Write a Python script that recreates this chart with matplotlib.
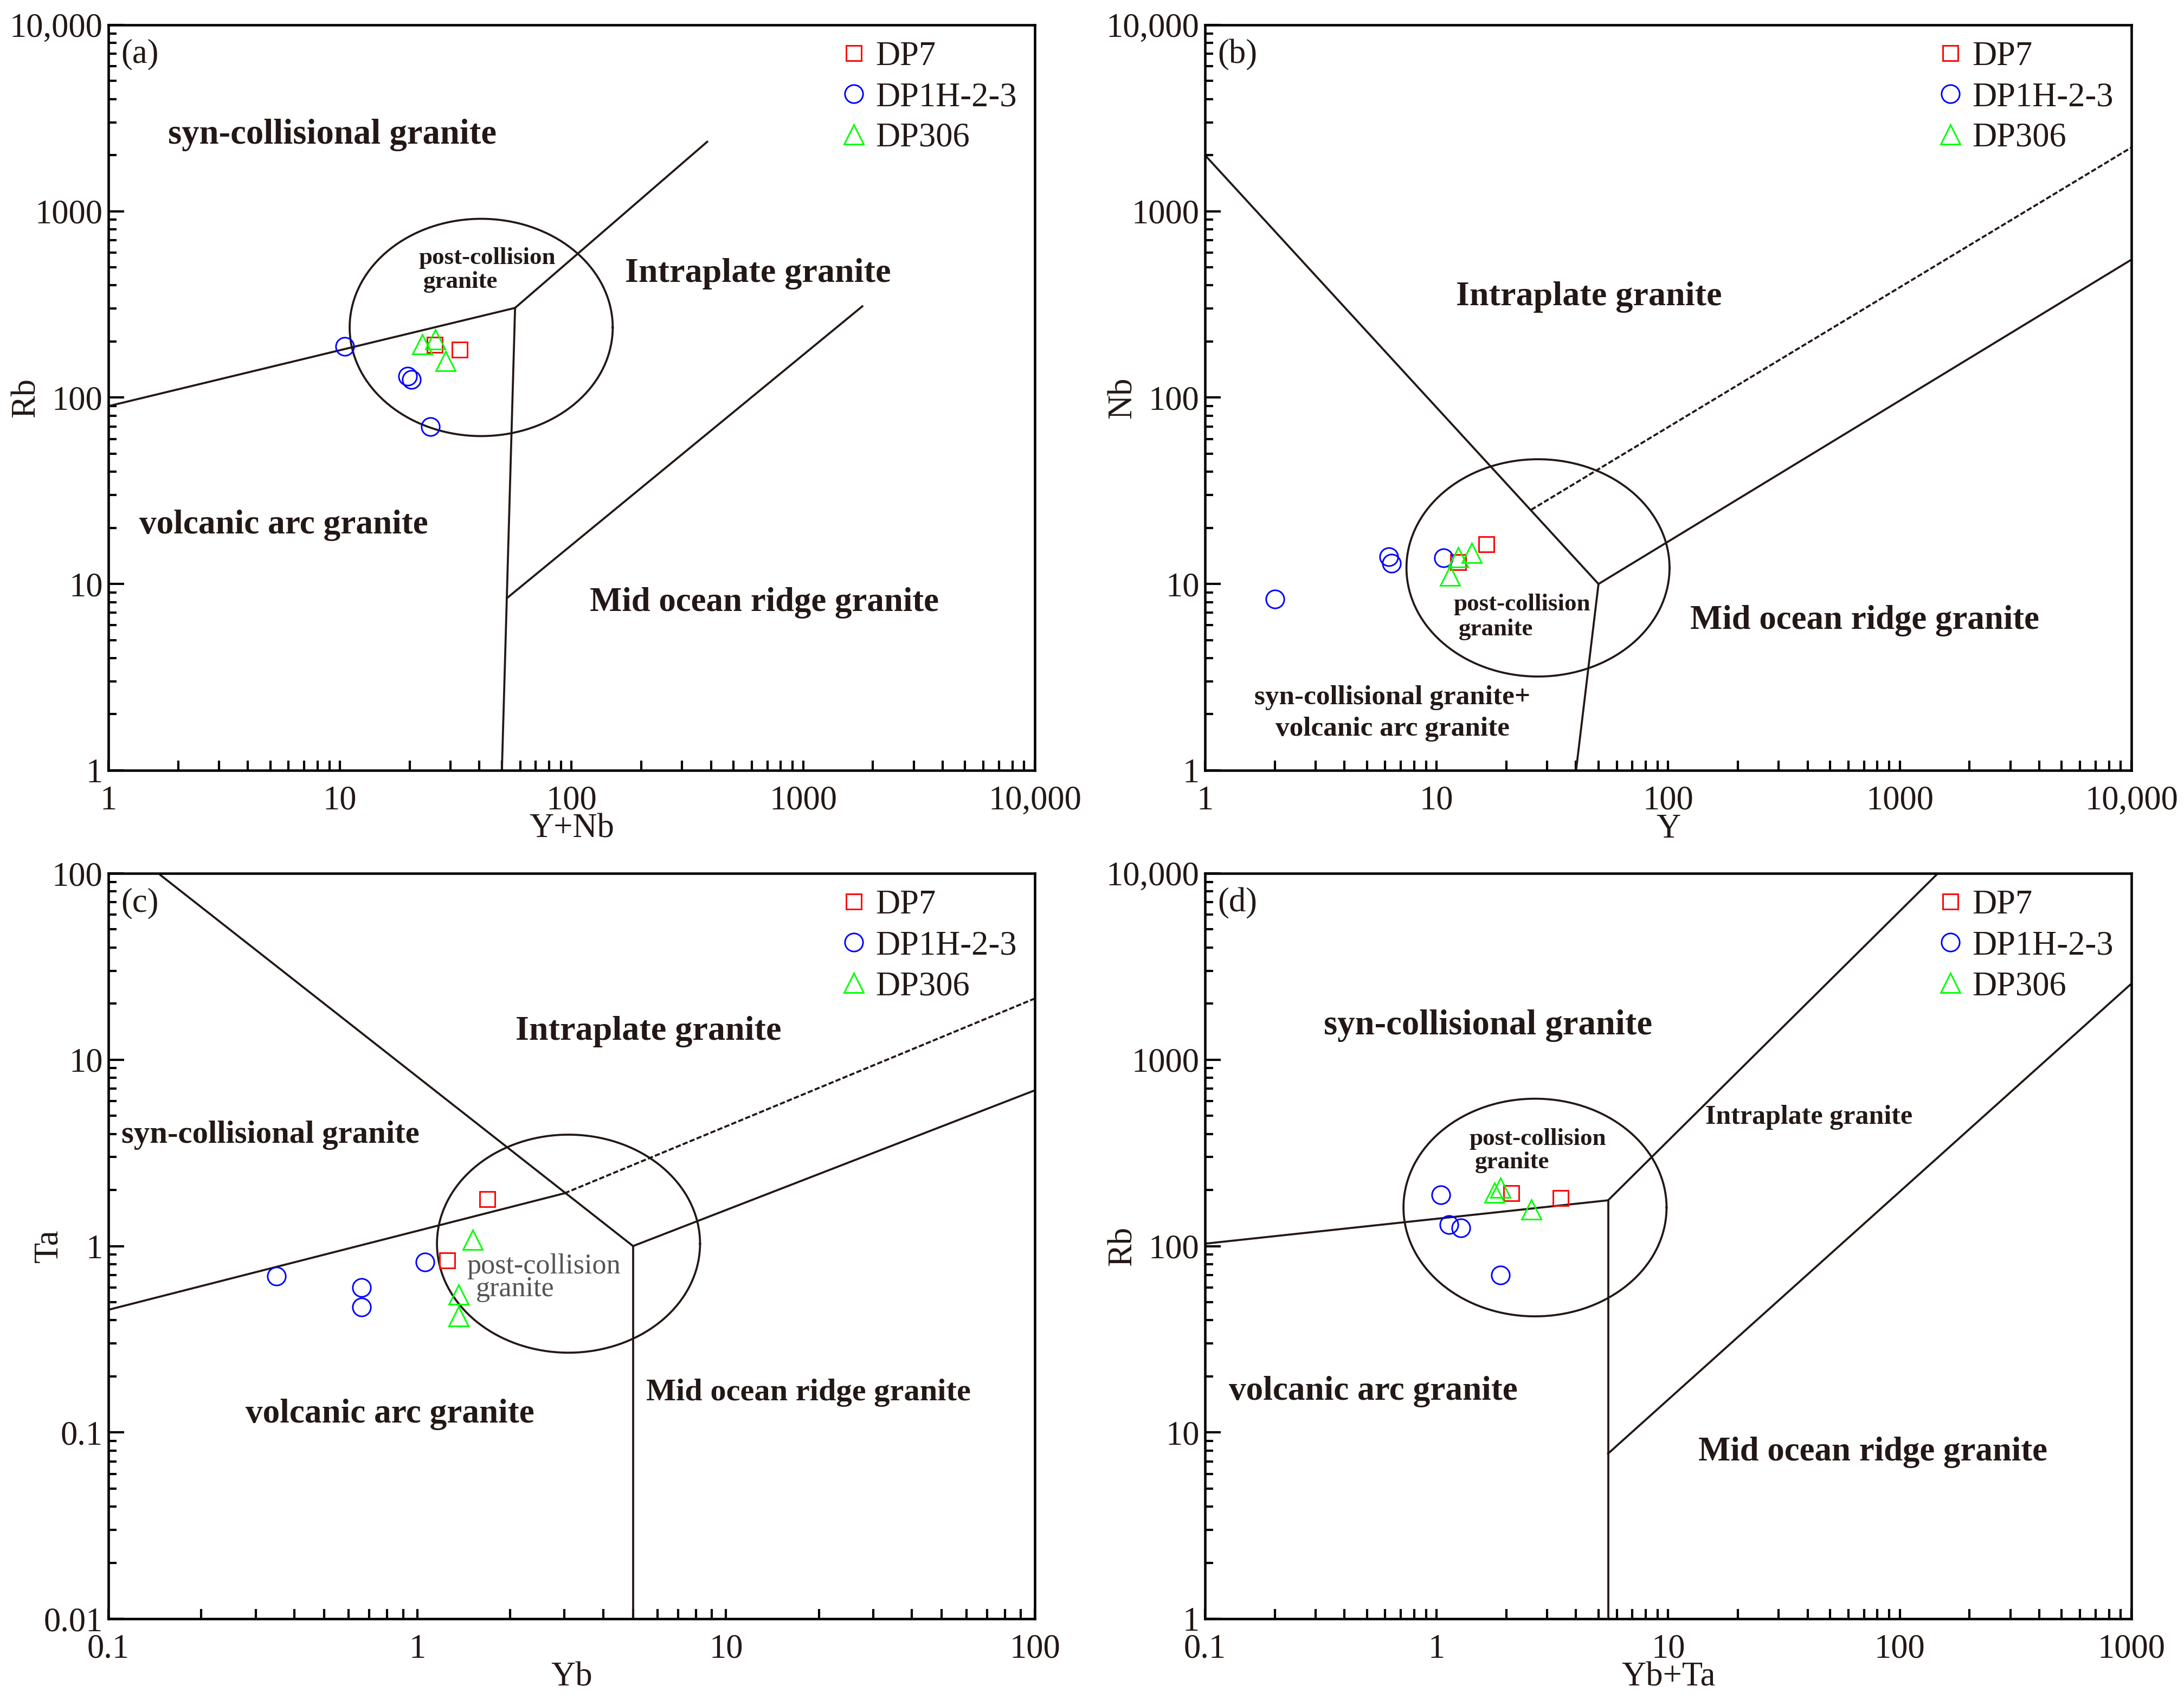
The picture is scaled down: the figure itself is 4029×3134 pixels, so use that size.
import numpy as np
import matplotlib
matplotlib.use('Agg')
import matplotlib.pyplot as plt
from matplotlib.ticker import FixedLocator, FixedFormatter, LogLocator, NullFormatter

plt.rcParams['font.family'] = ['Liberation Serif', 'DejaVu Serif']
ink = '#231815'

# ---- sample data ----
# (a) Rb vs Y+Nb
a_dp7_x = [25.6, 32.9]
a_dp7_y = [192, 181]
a_dp1_x = [10.5, 19.6, 20.3, 24.6]
a_dp1_y = [188, 130, 125, 70]
a_dp306_x = [22.7, 25.8, 28.5]
a_dp306_y = [194, 205, 157]

# (b) Nb vs Y
b_dp7_x = [16.4, 12.4]
b_dp7_y = [16.3, 13.1]
b_dp1_x = [2.0, 6.2, 6.4, 10.7]
b_dp1_y = [8.3, 14.0, 12.9, 13.8]
b_dp306_x = [12.4, 14.2, 11.4]
b_dp306_y = [13.9, 14.7, 11.1]

# (c) Ta vs Yb
c_dp7_x = [1.69, 1.25]
c_dp7_y = [1.78, 0.84]
c_dp1_x = [0.35, 0.66, 0.66, 1.06]
c_dp1_y = [0.69, 0.60, 0.47, 0.82]
c_dp306_x = [1.51, 1.36, 1.36]
c_dp306_y = [1.08, 0.55, 0.42]

# (d) Rb vs Yb+Ta
d_dp7_x = [2.10, 3.44]
d_dp7_y = [192, 181]
d_dp1_x = [1.04, 1.13, 1.27, 1.89]
d_dp1_y = [188, 130, 125, 70]
d_dp306_x = [1.78, 1.89, 2.57]
d_dp306_y = [194, 205, 157]

# ---- field boundaries (Pearce et al.) ----
a_lines = [[(1, 90), (57, 303)], [(57, 303), (385, 2360)],
           [(57, 303), (50, 1)], [(52.6, 8.4), (1800, 309)]]
a_dash = []
b_lines = [[(1, 2000), (50, 10)], [(50, 10), (40, 1)], [(50, 10), (10000, 550)]]
b_dash = [[(25.6, 25), (10000, 2200)]]
c_lines = [[(0.145, 100), (5, 1)], [(5, 1), (5, 0.01)], [(5, 1), (100, 6.85)],
           [(0.1, 0.455), (3.0, 1.92)]]
c_dash = [[(3.0, 1.92), (100, 21.3)]]
d_lines = [[(0.1, 103), (5.5, 176)], [(5.5, 176), (5.5, 1)],
           [(5.5, 176), (146, 10000)], [(5.5, 7.7), (1000, 2560)]]
d_dash = []

# post-collision field: centre (data units), radii (decades)
a_ell = (40.7, 238, 0.568, 0.583)
b_ell = (27.4, 12.2, 0.568, 0.583)
c_ell = (3.09, 1.03, 0.426, 0.585)
d_ell = (2.66, 161, 0.568, 0.584)

big = ['1', '10', '100', '1000', '10,000']
a_xt = [1, 10, 100, 1000, 10000]
a_yt = [1, 10, 100, 1000, 10000]
c_xt = [0.1, 1, 10, 100]
c_xl = ['0.1', '1', '10', '100']
c_yt = [0.01, 0.1, 1, 10, 100]
c_yl = ['0.01', '0.1', '1', '10', '100']
d_xt = [0.1, 1, 10, 100, 1000]
d_xl = ['0.1', '1', '10', '100', '1000']

# labels: text, x frac, y frac, size, weight, ha, color
a_txt = [('syn-collisional granite', 0.2416, 0.852, 15.5, 'bold', 'center', ink),
         ('post-collision', 0.335, 0.687, 10.8, 'bold', 'left', ink),
         ('granite', 0.340, 0.655, 10.8, 'bold', 'left', ink),
         ('Intraplate granite', 0.701, 0.666, 15.4, 'bold', 'center', ink),
         ('volcanic arc granite', 0.189, 0.329, 15.2, 'bold', 'center', ink),
         ('Mid ocean ridge granite', 0.708, 0.225, 15.1, 'bold', 'center', ink)]
b_txt = [('Intraplate granite', 0.4145, 0.635, 15.4, 'bold', 'center', ink),
         ('post-collision', 0.268, 0.2227, 10.8, 'bold', 'left', ink),
         ('granite', 0.274, 0.1894, 10.8, 'bold', 'left', ink),
         ('Mid ocean ridge granite', 0.712, 0.201, 15.1, 'bold', 'center', ink),
         ('syn-collisional granite+', 0.2024, 0.0976, 12.3, 'bold', 'center', ink),
         ('volcanic arc granite', 0.2024, 0.055, 12.3, 'bold', 'center', ink)]
c_txt = [('Intraplate granite', 0.583, 0.788, 15.4, 'bold', 'center', ink),
         ('syn-collisional granite', 0.175, 0.6486, 14.1, 'bold', 'center', ink),
         ('volcanic arc granite', 0.3037, 0.2739, 15.2, 'bold', 'center', ink),
         ('Mid ocean ridge granite', 0.7554, 0.303, 14.0, 'bold', 'center', ink),
         ('post-collision', 0.3867, 0.473, 12.5, 'normal', 'left', '#555555'),
         ('granite', 0.3964, 0.442, 12.5, 'normal', 'left', '#555555')]
d_txt = [('syn-collisional granite', 0.3055, 0.7957, 15.5, 'bold', 'center', ink),
         ('post-collision', 0.2853, 0.6435, 10.8, 'bold', 'left', ink),
         ('granite', 0.2913, 0.6123, 10.8, 'bold', 'left', ink),
         ('Intraplate granite', 0.652, 0.6725, 12, 'bold', 'center', ink),
         ('volcanic arc granite', 0.1815, 0.305, 15.2, 'bold', 'center', ink),
         ('Mid ocean ridge granite', 0.7207, 0.2232, 15.1, 'bold', 'center', ink)]


def panel(ax, tag, pts, lines, dash, ell, txt, xt, xl, yt, yl, xname, yname, ylab_x):
    ax.set_xscale('log')
    ax.set_yscale('log')
    ax.set_xlim(xt[0], xt[-1])
    ax.set_ylim(yt[0], yt[-1])

    for seg in lines:
        ax.plot([p[0] for p in seg], [p[1] for p in seg], color=ink, lw=0.9, zorder=2)
    for seg in dash:
        ax.plot([p[0] for p in seg], [p[1] for p in seg], color=ink, lw=0.9,
                ls=(0, (2.6, 1.1)), zorder=2)

    cx, cy, rx, ry = ell
    t = np.linspace(0, 2 * np.pi, 300)
    ax.plot(10 ** (np.log10(cx) + rx * np.cos(t)), 10 ** (np.log10(cy) + ry * np.sin(t)),
            color=ink, lw=0.9, zorder=2)

    (x7, y7), (x1, y1), (x3, y3) = pts
    ax.plot(x7, y7, ls='none', marker='s', ms=6.8, mfc='none', mec='#ff0000', mew=0.7,
            label='DP7', zorder=4)
    ax.plot(x1, y1, ls='none', marker='o', ms=8.0, mfc='none', mec='#0000ff', mew=0.7,
            label='DP1H-2-3', zorder=4)
    ax.plot(x3, y3, ls='none', marker='^', ms=8.6, mfc='none', mec='#00ff00', mew=0.7,
            label='DP306', zorder=4)

    for s, x, y, size, w, ha, col in txt:
        ax.text(x, y, s, transform=ax.transAxes, fontsize=size, fontweight=w,
                ha=ha, va='center', color=col)
    ax.text(0.0135, 0.96, tag, transform=ax.transAxes, fontsize=15, ha='left',
            va='center', color=ink)

    leg = ax.legend(loc='upper left', bbox_to_anchor=(0.790, 0.978), frameon=False,
                    fontsize=15, handlelength=0.8, handletextpad=0.25,
                    labelspacing=0.27, borderpad=0, borderaxespad=0)
    for tx in leg.get_texts():
        tx.set_color(ink)

    ax.xaxis.set_major_locator(FixedLocator(xt))
    ax.xaxis.set_major_formatter(FixedFormatter(xl))
    ax.yaxis.set_major_locator(FixedLocator(yt))
    ax.yaxis.set_major_formatter(FixedFormatter(yl))
    for axis in (ax.xaxis, ax.yaxis):
        axis.set_minor_locator(LogLocator(base=10, subs=np.arange(2, 10), numticks=50))
        axis.set_minor_formatter(NullFormatter())

    ax.tick_params(which='both', direction='in', top=False, right=False,
                   labelsize=15, labelcolor=ink, color='black', width=1.0)
    ax.tick_params(axis='x', which='both', length=4.3, pad=6.7)
    ax.tick_params(axis='y', which='major', length=7, pad=2.5)
    ax.tick_params(axis='y', which='minor', length=3.7, pad=2.5)
    for sp in ax.spines.values():
        sp.set_linewidth(1.1)
        sp.set_color('black')

    ax.set_xlabel(xname, fontsize=15, color=ink)
    ax.set_ylabel(yname, fontsize=15, color=ink)
    ax.xaxis.set_label_coords(0.5, -0.058)
    ax.yaxis.set_label_coords(ylab_x, 0.5)


fig = plt.figure(figsize=(4029 / 300, 3134 / 300), dpi=300)
w, h = 0.42417, 0.43874
ax_a = fig.add_axes([0.04964, 0.5466, w, h])
ax_b = fig.add_axes([0.55175, 0.5466, w, h])
ax_c = fig.add_axes([0.04964, 0.04722, w, h])
ax_d = fig.add_axes([0.55175, 0.04722, w, h])

panel(ax_a, '(a)', [(a_dp7_x, a_dp7_y), (a_dp1_x, a_dp1_y), (a_dp306_x, a_dp306_y)],
      a_lines, a_dash, a_ell, a_txt, a_xt, big, a_yt, big, 'Y+Nb', 'Rb', -0.0715)
panel(ax_b, '(b)', [(b_dp7_x, b_dp7_y), (b_dp1_x, b_dp1_y), (b_dp306_x, b_dp306_y)],
      b_lines, b_dash, b_ell, b_txt, a_xt, big, a_yt, big, 'Y', 'Nb', -0.0715)
panel(ax_c, '(c)', [(c_dp7_x, c_dp7_y), (c_dp1_x, c_dp1_y), (c_dp306_x, c_dp306_y)],
      c_lines, c_dash, c_ell, c_txt, c_xt, c_xl, c_yt, c_yl, 'Yb', 'Ta', -0.0474)
panel(ax_d, '(d)', [(d_dp7_x, d_dp7_y), (d_dp1_x, d_dp1_y), (d_dp306_x, d_dp306_y)],
      d_lines, d_dash, d_ell, d_txt, d_xt, d_xl, a_yt, big, 'Yb+Ta', 'Rb', -0.0715)

fig.savefig('out.png', dpi=300, facecolor='white')
